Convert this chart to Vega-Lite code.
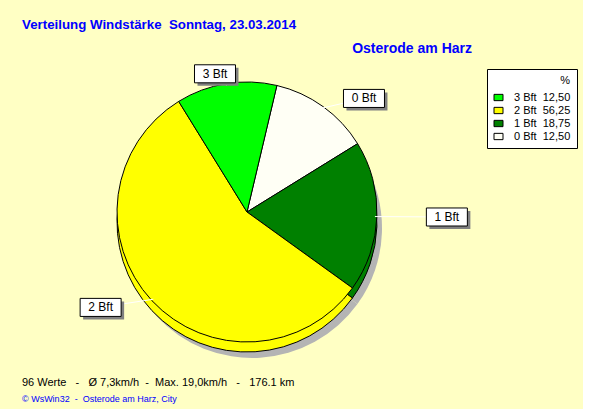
{
  "$schema": "https://vega.github.io/schema/vega-lite/v6.json",
  "background": "#FFFFC4",
  "padding": {"left": 22, "top": 18, "right": 5, "bottom": 5},
  "title": {
    "text": "96 Werte\u00a0\u00a0 -\u00a0\u00a0 Ø 7,3km/h\u00a0 -\u00a0 Max. 19,0km/h\u00a0\u00a0 -\u00a0\u00a0 176.1 km",
    "subtitle": "© WsWin32\u00a0 -\u00a0 Osterode am Harz, City",
    "orient": "bottom", "anchor": "start", "frame": "bounds",
    "fontSize": 11, "fontWeight": "normal", "color": "#000000",
    "subtitleColor": "#0000FF", "subtitleFontSize": 9, "subtitlePadding": 7, "offset": 19
  },
  "vconcat": [
    {
      "title": {
        "text": "Verteilung Windstärke\u00a0 Sonntag, 23.03.2014",
        "anchor": "start", "fontSize": 13.3, "fontWeight": "bold", "color": "#0000FF", "offset": 10
      },
      "vconcat": [
        {
          "title": {
            "text": "Osterode am Harz", "anchor": "end", "frame": "group",
            "fontSize": 14, "fontWeight": "bold", "color": "#0000FF", "offset": 7
          },
          "width": 450,
          "height": 286,
          "data": {
            "values": [
              {"bft": "0 Bft", "n": 0, "pct": 12.5},
              {"bft": "1 Bft", "n": 1, "pct": 18.75},
              {"bft": "2 Bft", "n": 2, "pct": 56.25},
              {"bft": "3 Bft", "n": 3, "pct": 12.5}
            ]
          },
          "transform": [
            {"calculate": "datum.bft + '\u00a0\u00a0' + replace(format(datum.pct, '.2f'), '.', ',')", "as": "entry"},
            {"stack": "pct", "groupby": [], "sort": [{"field": "n", "order": "ascending"}], "as": ["p0", "p1"]},
            {"calculate": "0.232 + (datum.p0 + datum.p1) / 100 * PI", "as": "mid"},
            {"calculate": "200 * sin(datum.mid)", "as": "lx"},
            {"calculate": "140 * cos(datum.mid)", "as": "ly"},
            {"calculate": "128 * sin(datum.mid)", "as": "ex"},
            {"calculate": "128 * cos(datum.mid)", "as": "ey"}
          ],
          "layer": [
            {
              "mark": {"type": "arc", "outerRadius": 130, "xOffset": 5, "yOffset": 16, "fill": "#B4B4B4"},
              "encoding": {
                "theta": {"field": "pct", "type": "quantitative", "stack": true, "scale": {"range": [0.232, 6.5152]}},
                "order": {"field": "n", "type": "quantitative"}
              }
            },
            {
              "mark": {"type": "arc", "outerRadius": 130, "yOffset": 10, "stroke": "#000000", "strokeWidth": 1},
              "encoding": {
                "theta": {"field": "pct", "type": "quantitative", "stack": true, "scale": {"range": [0.232, 6.5152]}},
                "order": {"field": "n", "type": "quantitative"},
                "color": {
                  "field": "entry", "type": "nominal", "title": "%",
                  "sort": {"field": "n", "order": "descending"},
                  "scale": {"range": ["#00FF00", "#FFFF00", "#008000", "#FFFFF5"]}
                }
              }
            },
            {
              "mark": {"type": "arc", "outerRadius": 130, "stroke": "#000000", "strokeWidth": 1},
              "encoding": {
                "theta": {"field": "pct", "type": "quantitative", "stack": true, "scale": {"range": [0.232, 6.5152]}},
                "order": {"field": "n", "type": "quantitative"},
                "color": {
                  "field": "entry", "type": "nominal", "title": "%",
                  "sort": {"field": "n", "order": "descending"},
                  "scale": {"range": ["#00FF00", "#FFFF00", "#008000", "#FFFFF5"]}
                }
              }
            },
            {
              "mark": {"type": "rule", "color": "#FFFFFF", "strokeWidth": 1},
              "encoding": {
                "x": {"field": "ex", "type": "quantitative", "scale": {"domain": [-225, 225], "nice": false, "zero": false}, "axis": null},
                "y": {"field": "ey", "type": "quantitative", "scale": {"domain": [-143, 143], "nice": false, "zero": false}, "axis": null},
                "x2": {"field": "lx"},
                "y2": {"field": "ly"}
              }
            },
            {
              "mark": {"type": "point", "shape": "M-1,-0.44H1V0.44H-1Z", "size": 1681, "filled": true, "fill": "#808080", "opacity": 1, "strokeWidth": 0, "xOffset": 3, "yOffset": 3},
              "encoding": {
                "x": {"field": "lx", "type": "quantitative", "axis": null},
                "y": {"field": "ly", "type": "quantitative", "axis": null}
              }
            },
            {
              "mark": {"type": "point", "shape": "M-1,-0.44H1V0.44H-1Z", "size": 1681, "filled": true, "fill": "#FFFFFF", "opacity": 1, "stroke": "#000000", "strokeWidth": 1},
              "encoding": {
                "x": {"field": "lx", "type": "quantitative", "axis": null},
                "y": {"field": "ly", "type": "quantitative", "axis": null}
              }
            },
            {
              "mark": {"type": "text", "fontSize": 12, "color": "#000000"},
              "encoding": {
                "x": {"field": "lx", "type": "quantitative", "axis": null},
                "y": {"field": "ly", "type": "quantitative", "axis": null},
                "text": {"field": "bft", "type": "nominal"}
              }
            }
          ]
        }
      ]
    }
  ],
  "config": {
    "font": "Liberation Sans",
    "view": {"stroke": null},
    "legend": {
      "orient": "right", "offset": 15,
      "titleAnchor": "end", "titleFontSize": 11, "titleFontWeight": "normal", "titleColor": "#000000",
      "labelFontSize": 11, "labelColor": "#000000",
      "fillColor": "#FFFFFF", "strokeColor": "#000000", "padding": 6,
      "symbolType": "M-1,-0.7H1V0.7H-1Z", "symbolSize": 81,
      "symbolStrokeColor": "#000000", "symbolStrokeWidth": 1,
      "rowPadding": 1, "labelOffset": 10, "titlePadding": 6
    },
    "axis": {"title": null}
  }
}
